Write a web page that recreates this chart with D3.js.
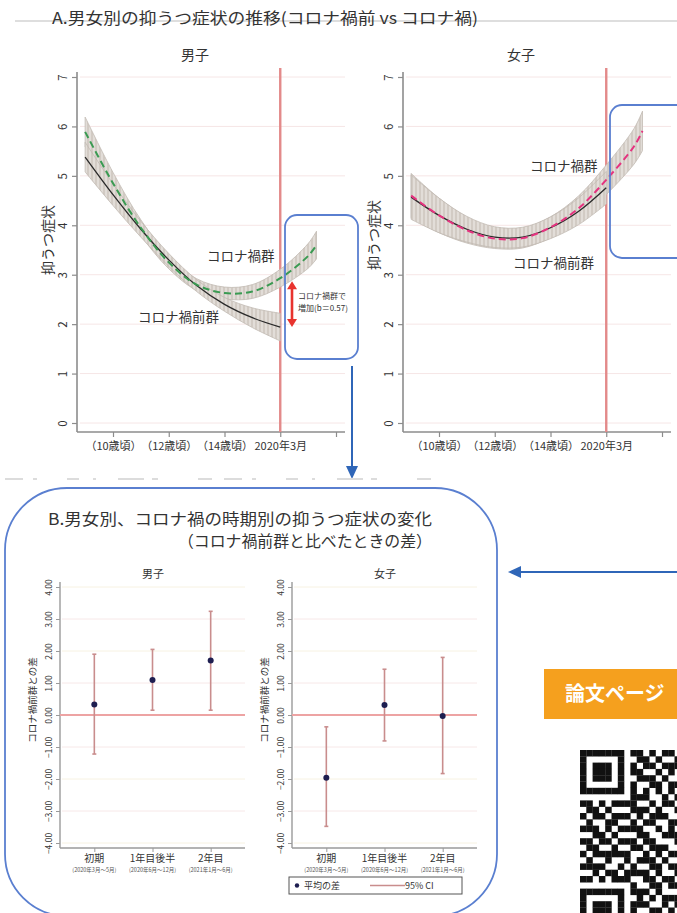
<!DOCTYPE html>
<html>
<head>
<meta charset="utf-8">
<script src="https://cdn.jsdelivr.net/npm/d3@7"></script>
<style>
  body { margin: 0; background: #fff; }
  svg { display: block; font-family: "Noto Sans CJK JP", "Noto Sans", sans-serif; }
</style>
</head>
<body>
<svg id="fig" width="677" height="913"></svg>
<script>
// ---------- Panel A: symptom trajectories by age ----------
const ageTicks = [10, 12, 14, 16, 18];
const ageTickLabels = ["（10歳頃）", "（12歳頃）", "（14歳頃）", "2020年3月", ""];
const symptomTicks = [0, 1, 2, 3, 4, 5, 6, 7];

const preAges = [9, 10, 11, 12, 13, 14, 15, 16];
const covidAges = [9, 10, 11, 12, 13, 14, 15, 16, 17, 17.3];

const malePre = [5.38, 4.62, 3.92, 3.30, 2.78, 2.40, 2.13, 1.94];
const malePreCI = [0.30, 0.22, 0.16, 0.13, 0.12, 0.14, 0.20, 0.28];
const maleCovid = [5.89, 4.85, 3.95, 3.25, 2.80, 2.63, 2.66, 2.93, 3.38, 3.60];
const maleCovidCI = [0.30, 0.22, 0.16, 0.13, 0.12, 0.12, 0.14, 0.18, 0.25, 0.28];

const femalePre = [4.57, 4.20, 3.92, 3.76, 3.76, 3.95, 4.28, 4.76];
const femalePreCI = [0.45, 0.35, 0.26, 0.21, 0.20, 0.22, 0.27, 0.33];
const femaleCovid = [4.60, 4.20, 3.90, 3.73, 3.74, 3.96, 4.34, 4.92, 5.60, 5.91];
const femaleCovidCI = [0.45, 0.35, 0.26, 0.20, 0.20, 0.21, 0.25, 0.30, 0.36, 0.40];

// ---------- Panel B: difference vs. pre-pandemic cohort ----------
const periods = ["初期", "1年目後半", "2年目"];
const periodNotes = ["(2020年3月～5月)", "(2020年6月～12月)", "(2021年1月～6月)"];
const diffTicks = [-4, -3, -2, -1, 0, 1, 2, 3, 4];

const maleDiff = [0.33, 1.09, 1.70];
const maleLow = [-1.22, 0.15, 0.15];
const maleHigh = [1.90, 2.05, 3.24];

const femaleDiff = [-1.96, 0.31, -0.03];
const femaleLow = [-3.48, -0.81, -1.83];
const femaleHigh = [-0.37, 1.43, 1.80];

// QR code modules (visible portion)
const qrRows = [
  "1111111011010110","1000001001101001","1011101010110111","1011101011001010",
  "1011101001110100","1000001010011011","1111111010101010","0000000011100101",
  "1101011110010110","0110100011101001","1011011101011100","0100110010110011",
  "1110101111001010","0011010001100111","1101101110110001","0110010011011100",
  "1011111100101011","0100100101110100","1111001010011011","0010110111101001",
  "1101011100110110","0000000010011011","1111111011101000","1000001001010111",
  "1011101011100101","1011101010011010","1011101001110111","1000001011001001",
  "1111111010110110"
];

const svg = d3.select("#fig");
const BLUE = "#5a7fd0";
const ARROW = "#2f66b8";
const TXT = "#333";

// hatch texture for the confidence bands
const defs = svg.append("defs");
const pat = defs.append("pattern").attr("id", "band").attr("patternUnits", "userSpaceOnUse")
  .attr("width", 4).attr("height", 4);
pat.append("rect").attr("width", 4).attr("height", 4).attr("fill", "#d2cbc4");
pat.append("line").attr("x1", 2).attr("x2", 2).attr("y1", 0).attr("y2", 4)
  .attr("stroke", "#ebe7e3").attr("stroke-width", 1.3);

// header
svg.append("line").attr("x1", 15).attr("x2", 677).attr("y1", 21).attr("y2", 21)
  .attr("stroke", "#bdbdbd").attr("stroke-width", 1);
svg.append("text").attr("x", 52).attr("y", 24).attr("font-size", 16).attr("fill", TXT)
  .attr("textLength", 426).attr("lengthAdjust", "spacingAndGlyphs")
  .text("A.男女別の抑うつ症状の推移(コロナ禍前 vs コロナ禍)");

function trendPanel(x0, title, pre, preCI, covid, covidCI, covidColor, labels) {
  const g = svg.append("g");
  const x = d3.scaleLinear([10, 18], [x0 + 36, x0 + 259]);
  const y = d3.scaleLinear([0, 7], [423, 77]);
  const xEnd = x0 + 268;

  // grid
  g.selectAll(".grid").data(symptomTicks).join("line")
    .attr("x1", x0 + 3).attr("x2", xEnd).attr("y1", d => y(d)).attr("y2", d => y(d))
    .attr("stroke", "#f6e6e6").attr("stroke-width", 1);

  // axes
  const ya = g.append("g").attr("transform", `translate(${x0},0)`)
    .call(d3.axisLeft(y).tickValues(symptomTicks).tickSize(5).tickFormat(d3.format("d")));
  ya.select(".domain").attr("d", `M0,72V432`);
  ya.selectAll("text").attr("x", null).attr("dy", null).attr("text-anchor", "middle")
    .attr("transform", "translate(-10,0) rotate(-90)").attr("font-size", 11.5).attr("fill", TXT);

  const xa = g.append("g").attr("transform", "translate(0,432)")
    .call(d3.axisBottom(x).tickValues(ageTicks).tickSize(5).tickFormat((d, i) => ageTickLabels[i]));
  xa.select(".domain").attr("d", `M${x0},0H${xEnd}`);
  xa.selectAll("text").attr("font-size", 11).attr("fill", TXT).attr("y", 10);
  [ya, xa].forEach(a => {
    a.select(".domain").attr("stroke", "#8c8c8c").attr("stroke-width", 1.6);
    a.selectAll(".tick line").attr("stroke", "#8c8c8c").attr("stroke-width", 1.2);
    a.attr("font-family", null);
  });

  // pandemic onset
  g.append("line").attr("x1", x(16)).attr("x2", x(16)).attr("y1", 68).attr("y2", 432)
    .attr("stroke", "#e38a8a").attr("stroke-width", 2.4);

  const area = (ages, v, ci) => d3.area().curve(d3.curveCatmullRom)
    .x((d, i) => x(ages[i])).y0((d, i) => y(v[i] - ci[i])).y1((d, i) => y(v[i] + ci[i]))(v);
  const line = (ages, v) => d3.line().curve(d3.curveCatmullRom)
    .x((d, i) => x(ages[i])).y(d => y(d))(v);

  g.append("path").attr("d", area(covidAges, covid, covidCI))
    .attr("fill", "url(#band)").attr("stroke", "#c2bab3").attr("stroke-width", 0.8);
  g.append("path").attr("d", area(preAges, pre, preCI))
    .attr("fill", "url(#band)").attr("stroke", "#c2bab3").attr("stroke-width", 0.8);
  g.append("path").attr("d", line(preAges, pre))
    .attr("fill", "none").attr("stroke", "#2a2a2a").attr("stroke-width", 1.3);
  g.append("path").attr("d", line(covidAges, covid))
    .attr("fill", "none").attr("stroke", covidColor).attr("stroke-width", 2)
    .attr("stroke-dasharray", "7,4");

  g.append("text").attr("x", x0 + 118).attr("y", 60).attr("text-anchor", "middle")
    .attr("font-size", 14).attr("fill", TXT).text(title);
  g.append("text").attr("transform", `translate(${x0 - 24},${labels.yLabel}) rotate(-90)`)
    .attr("text-anchor", "middle").attr("font-size", 14).attr("fill", TXT).text("抑うつ症状");
  g.append("text").attr("x", labels.covid[0]).attr("y", labels.covid[1]).attr("font-size", 13.5)
    .attr("fill", TXT).text("コロナ禍群");
  g.append("text").attr("x", labels.pre[0]).attr("y", labels.pre[1]).attr("font-size", 13.5)
    .attr("fill", TXT).text("コロナ禍前群");
  return { x, y };
}

const male = trendPanel(77, "男子", malePre, malePreCI, maleCovid, maleCovidCI, "#3a9a52",
  { covid: [207, 261], pre: [138, 322], yLabel: 240 });
trendPanel(403, "女子", femalePre, femalePreCI, femaleCovid, femaleCovidCI, "#e5337f",
  { covid: [530, 171], pre: [513, 268], yLabel: 235 });

// gap at onset (boys)
{
  const ax = 292, yTop = male.y(maleCovid[7]) + 3, yBot = male.y(malePre[7]);
  svg.append("line").attr("x1", ax).attr("x2", ax).attr("y1", yTop + 6).attr("y2", yBot - 6)
    .attr("stroke", "#e8332e").attr("stroke-width", 2.6);
  svg.append("path").attr("d", `M${ax - 5},${yTop + 8}L${ax + 5},${yTop + 8}L${ax},${yTop}Z`).attr("fill", "#e8332e");
  svg.append("path").attr("d", `M${ax - 5},${yBot - 8}L${ax + 5},${yBot - 8}L${ax},${yBot}Z`).attr("fill", "#e8332e");
  svg.append("text").attr("x", 298).attr("y", 299).attr("font-size", 8).attr("fill", TXT).text("コロナ禍群で");
  svg.append("text").attr("x", 298).attr("y", 311).attr("font-size", 8).attr("fill", TXT).text("増加(b＝0.57)");
}

// highlight boxes and connectors
svg.append("rect").attr("x", 285).attr("y", 215).attr("width", 73).attr("height", 144).attr("rx", 12)
  .attr("fill", "none").attr("stroke", BLUE).attr("stroke-width", 1.8);
svg.append("rect").attr("x", 610).attr("y", 105).attr("width", 90).attr("height", 153).attr("rx", 12)
  .attr("fill", "none").attr("stroke", BLUE).attr("stroke-width", 1.8);
svg.append("line").attr("x1", 352).attr("x2", 352).attr("y1", 366).attr("y2", 468)
  .attr("stroke", ARROW).attr("stroke-width", 2);
svg.append("path").attr("d", "M346,466L358,466L352,479Z").attr("fill", ARROW);
svg.append("line").attr("x1", 677).attr("x2", 518).attr("y1", 572).attr("y2", 572)
  .attr("stroke", ARROW).attr("stroke-width", 2);
svg.append("path").attr("d", "M521,566L521,578L508,572Z").attr("fill", ARROW);

// faint remnant row
svg.append("line").attr("x1", 5).attr("x2", 440).attr("y1", 479).attr("y2", 479)
  .attr("stroke", "#dcdcdc").attr("stroke-width", 2)
  .attr("stroke-dasharray", "18,10,4,30,12,14,3,22,26,8,6,40,14,12");

// section B frame
svg.append("rect").attr("x", 5).attr("y", 488).attr("width", 492).attr("height", 428).attr("rx", 62)
  .attr("fill", "none").attr("stroke", BLUE).attr("stroke-width", 1.8);
svg.append("text").attr("x", 48).attr("y", 525).attr("font-size", 16).attr("fill", TXT)
  .attr("textLength", 384).attr("lengthAdjust", "spacingAndGlyphs")
  .text("B.男女別、コロナ禍の時期別の抑うつ症状の変化");
svg.append("text").attr("x", 178).attr("y", 547).attr("font-size", 16).attr("fill", TXT)
  .attr("textLength", 254).attr("lengthAdjust", "spacingAndGlyphs")
  .text("（コロナ禍前群と比べたときの差）");

function diffPanel(x0, title, mean, low, high, withLegend) {
  const g = svg.append("g");
  const x = d3.scalePoint(periods, [x0, x0 + 185]).padding(0.59);
  const y = d3.scaleLinear([-4, 4], [843, 587]);
  const xEnd = x0 + 185;

  g.selectAll(".grid").data(diffTicks).join("line")
    .attr("x1", x0 + 2).attr("x2", xEnd).attr("y1", d => y(d)).attr("y2", d => y(d))
    .attr("stroke", (d, i) => i % 2 ? "#f7e8e8" : "#f7f2e2").attr("stroke-width", 1);

  const ya = g.append("g").attr("transform", `translate(${x0},0)`)
    .call(d3.axisLeft(y).tickValues(diffTicks).tickSize(4).tickFormat(d3.format(".2f")));
  ya.select(".domain").attr("d", "M0,582V848");
  ya.selectAll("text").attr("x", null).attr("dy", null).attr("text-anchor", "middle")
    .attr("transform", "translate(-8,0) rotate(-90)").attr("font-size", 8.5).attr("fill", TXT);

  const xa = g.append("g").attr("transform", "translate(0,848)")
    .call(d3.axisBottom(x).tickSize(4).tickFormat(""));
  xa.select(".domain").attr("d", `M${x0},0H${xEnd}`);
  [ya, xa].forEach(a => {
    a.select(".domain").attr("stroke", "#9a9a9a").attr("stroke-width", 1.4);
    a.selectAll(".tick line").attr("stroke", "#9a9a9a");
    a.attr("font-family", null);
  });
  g.selectAll(".plab").data(periods).join("text")
    .attr("x", d => x(d)).attr("y", 862).attr("text-anchor", "middle")
    .attr("font-size", 10).attr("fill", TXT).text(d => d);
  g.selectAll(".pnote").data(periodNotes).join("text")
    .attr("x", (d, i) => x(periods[i])).attr("y", 872).attr("text-anchor", "middle")
    .attr("font-size", 5.5).attr("fill", "#555").text(d => d);

  g.append("line").attr("x1", x0).attr("x2", xEnd).attr("y1", y(0)).attr("y2", y(0))
    .attr("stroke", "#eda3a3").attr("stroke-width", 2);

  const bars = g.selectAll(".ci").data(periods).join("g");
  bars.append("line").attr("x1", d => x(d)).attr("x2", d => x(d))
    .attr("y1", (d, i) => y(low[i])).attr("y2", (d, i) => y(high[i]))
    .attr("stroke", "#c98d8d").attr("stroke-width", 1.6);
  [low, high].forEach(arr => bars.append("line")
    .attr("x1", d => x(d) - 2).attr("x2", d => x(d) + 2)
    .attr("y1", (d, i) => y(arr[i])).attr("y2", (d, i) => y(arr[i]))
    .attr("stroke", "#c98d8d").attr("stroke-width", 1.6));
  bars.append("circle").attr("cx", d => x(d)).attr("cy", (d, i) => y(mean[i])).attr("r", 3)
    .attr("fill", "#1e1e50");

  g.append("text").attr("x", x0 + 93).attr("y", 578).attr("text-anchor", "middle")
    .attr("font-size", 11).attr("fill", TXT).text(title);
  g.append("text").attr("transform", `translate(${x0 - 24},700) rotate(-90)`)
    .attr("text-anchor", "middle").attr("font-size", 9.5).attr("fill", TXT).text("コロナ禍前群との差");

  if (withLegend) {
    const lg = g.append("g");
    lg.append("rect").attr("x", 289).attr("y", 877).attr("width", 173).attr("height", 17)
      .attr("fill", "#fff").attr("stroke", "#555").attr("stroke-width", 1);
    lg.append("circle").attr("cx", 297).attr("cy", 885.5).attr("r", 2.2).attr("fill", "#1e1e50");
    lg.append("text").attr("x", 304).attr("y", 889).attr("font-size", 9).attr("fill", TXT).text("平均の差");
    lg.append("line").attr("x1", 370).attr("x2", 405).attr("y1", 885.5).attr("y2", 885.5)
      .attr("stroke", "#c98d8d").attr("stroke-width", 1.6);
    lg.append("text").attr("x", 405).attr("y", 889).attr("font-size", 9).attr("fill", TXT).text("95% CI");
  }
}

diffPanel(60, "男子", maleDiff, maleLow, maleHigh, false);
diffPanel(292, "女子", femaleDiff, femaleLow, femaleHigh, true);

// link to the paper
svg.append("rect").attr("x", 544).attr("y", 669).attr("width", 140).attr("height", 50).attr("fill", "#f5a01e");
svg.append("text").attr("x", 565).attr("y", 701).attr("font-size", 20).attr("font-weight", 700)
  .attr("fill", "#fff").text("論文ページ");

const qr = svg.append("g").attr("transform", "translate(580,750)");
const m = 6.3;
qrRows.forEach((row, r) => row.split("").forEach((c, k) => {
  if (c === "1") qr.append("rect").attr("x", k * m).attr("y", r * m)
    .attr("width", m + 0.2).attr("height", m + 0.2).attr("fill", "#111");
}));
</script>
</body>
</html>
